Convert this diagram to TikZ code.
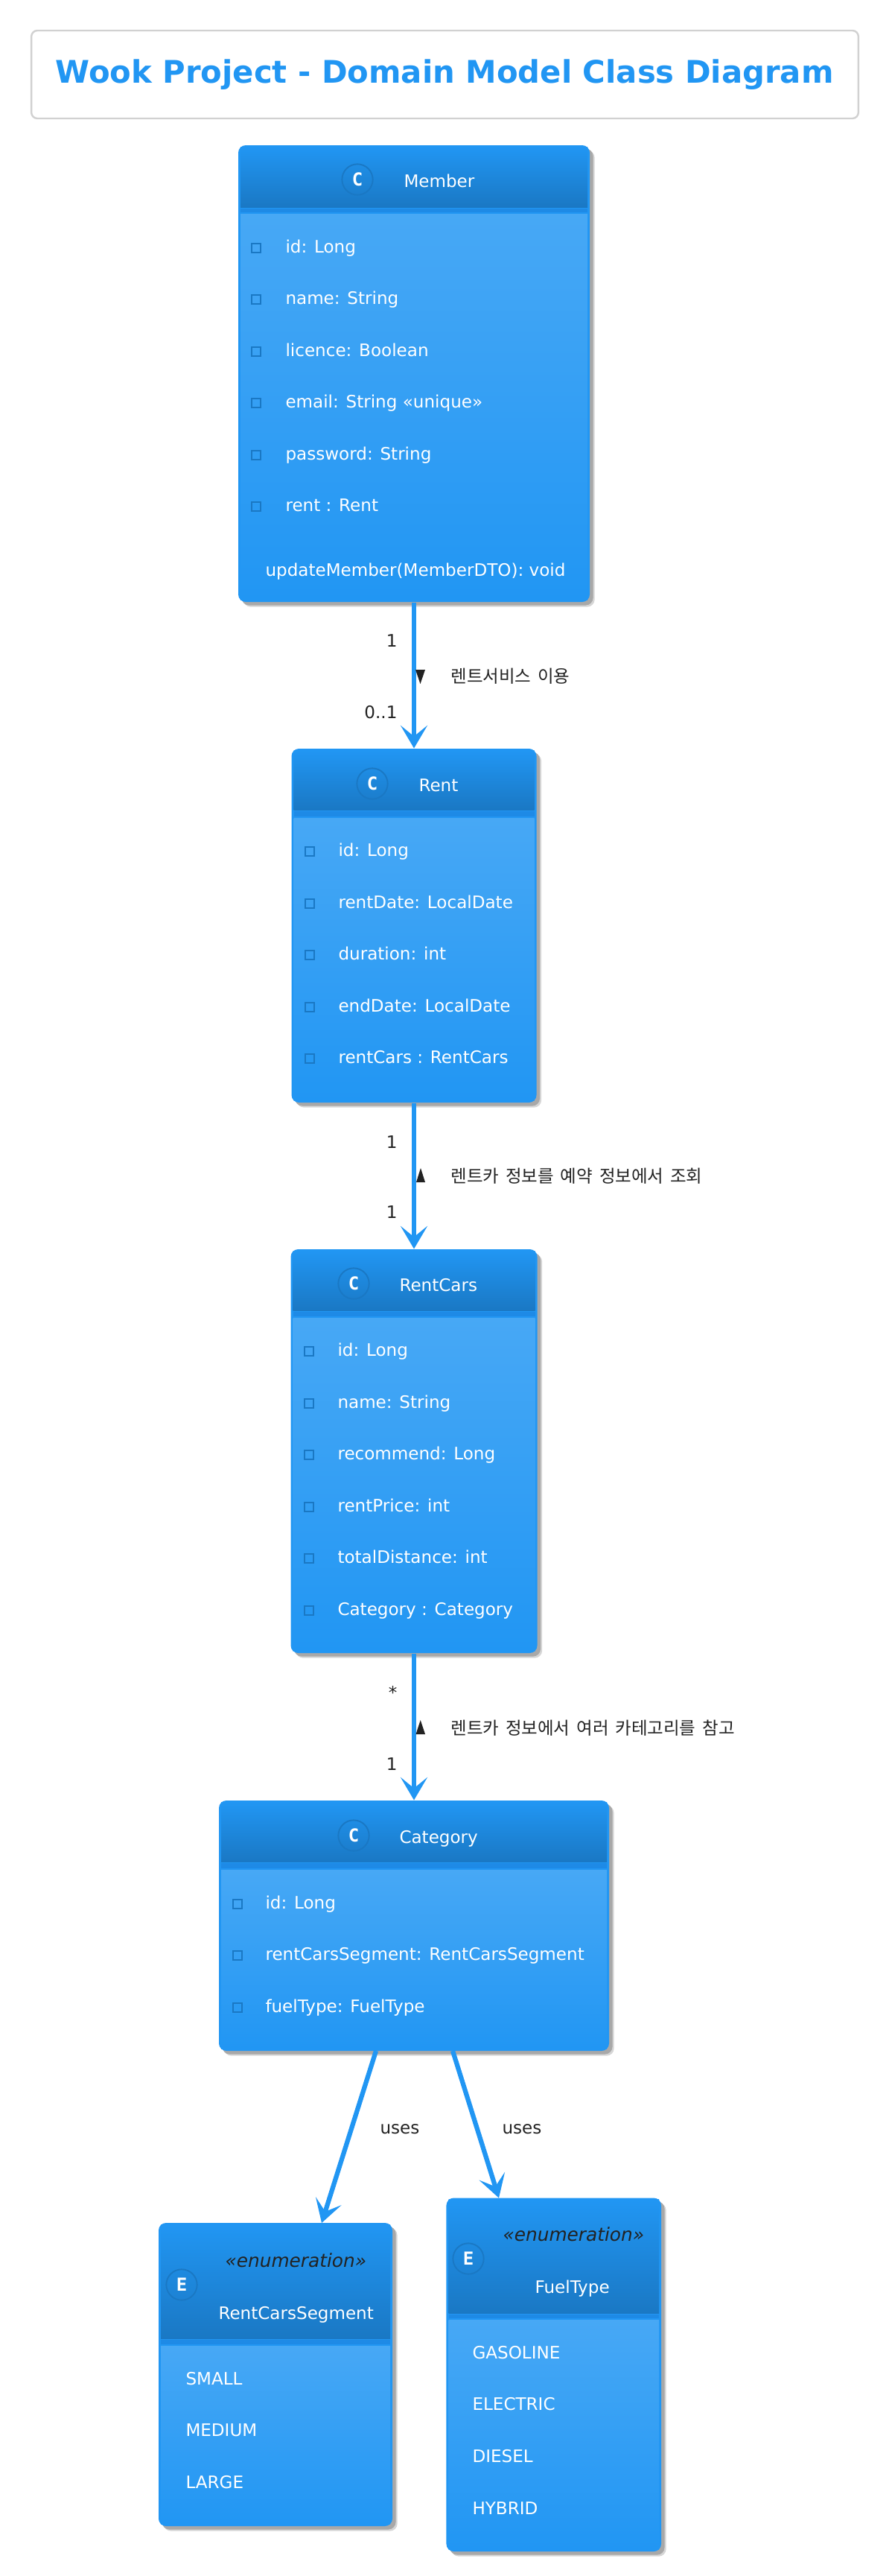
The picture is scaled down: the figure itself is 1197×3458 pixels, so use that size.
\documentclass[tikz,border=0pt]{standalone}
\usepackage{fontspec}
\setmainfont{DejaVu Sans}
\newfontfamily\krfont[WordSpace=1.7]{Noto Sans CJK KR}
\newfontfamily\spotfont{DejaVu Sans Mono}
\usetikzlibrary{arrows.meta,shadows}

\definecolor{umlblue}{HTML}{2196F3}
\definecolor{umldark}{HTML}{1A78C4}
\definecolor{umllight}{HTML}{47A8F5}
\definecolor{umlband}{HTML}{1E8AE6}
\definecolor{labelink}{HTML}{222222}

\tikzset{every picture/.style={line width=0.75pt}}
\tikzset{
  classbox/.style={rectangle,rounded corners=7.5pt,fill=umlblue,inner sep=0pt,
    general shadow={shadow xshift=5pt,shadow yshift=-5pt,fill=black!16},
    general shadow={shadow xshift=3.4pt,shadow yshift=-3.4pt,fill=black!34}},
  headfill/.style={top color=umlblue,bottom color=umldark},
  bodyfill/.style={top color=umllight,bottom color=umlblue},
  bandfill/.style={fill=umlband},
  spotmark/.style={circle,draw=umldark,line width=1.4pt,minimum size=31pt,inner sep=0pt,text=white,font=\spotfont\bfseries\fontsize{18}{20}\selectfont},
  fieldmark/.style={rectangle,draw=umldark,line width=1.5pt,minimum size=9pt,inner sep=0pt},
  classname/.style={anchor=base west,inner sep=0pt,text=white,font=\fontsize{17.3}{20}\selectfont},
  fieldtext/.style={classname},
  stereotext/.style={anchor=base west,inner sep=0pt,text=labelink,font=\itshape\fontsize{18.6}{20}\selectfont},
  roletext/.style={anchor=base east,inner sep=0pt,text=labelink,font=\fontsize{17.3}{20}\selectfont},
  usestext/.style={anchor=base west,inner sep=0pt,text=labelink,font=\fontsize{17.3}{20}\selectfont},
  relationtext/.style={anchor=west,inner sep=0pt,text=labelink,font=\krfont\fontsize{17.6}{20}\selectfont},
  relation/.style={draw=umlblue,line width=4.7pt,-{Stealth[length=23pt,width=27pt,inset=11pt]}},
  readmark/.style={fill=labelink,draw=none},
  titlebox/.style={rectangle,rounded corners=6pt,draw=black!18,line width=1.8pt,fill=white,inner sep=0pt},
  titletext/.style={inner sep=0pt,text=umlblue,font=\bfseries\fontsize{31.3}{36}\selectfont}
}

\begin{document}
\begin{tikzpicture}[x=0.75pt,y=0.75pt,yscale=-1,xscale=1]
\useasboundingbox (0,0) rectangle (1197,3458);

% Title
\node [titlebox,minimum width=833pt,minimum height=88.5pt] (titleFrame) at (597.5,100) {};
\node [titletext] (titleLabel) at (597,100) {Wook Project - Domain Model Class Diagram};

% Class Member
\node [classbox,minimum width=354pt,minimum height=459.75pt] (member) at (556,501.5) {};
\shade [headfill] (323,197) rectangle (789,278);
\fill [bandfill] (323,280) rectangle (789,285);
\shade [bodyfill] (323,287) rectangle (789,805);
\node [spotmark] (memberSpot) at (480,241) {C};
\node [classname] (memberName) at (542,251) {Member};
\node [fieldmark] (memberMark1) at (344,333) {};
\node [fieldmark] (memberMark2) at (344,402) {};
\node [fieldmark] (memberMark3) at (344,472) {};
\node [fieldmark] (memberMark4) at (344,541) {};
\node [fieldmark] (memberMark5) at (344,611) {};
\node [fieldmark] (memberMark6) at (344,680) {};
% Text Node
\node [fieldtext] (memberId) at (383,339) {id: Long};
\node [fieldtext] (memberNameField) at (383,408) {name: String};
\node [fieldtext] (memberLicence) at (383,478) {licence: Boolean};
\node [fieldtext] (memberEmail) at (383,547) {email: String «unique»};
\node [fieldtext] (memberPassword) at (383,617) {password: String};
\node [fieldtext] (memberRent) at (383,686) {rent : Rent};
\node [fieldtext] (memberUpdate) at (356,773) {updateMember(MemberDTO): void};

% Class Rent
\node [classbox,minimum width=246.75pt,minimum height=356.25pt] (rent) at (556,1242.5) {};
\shade [headfill] (394.5,1007) rectangle (717.5,1087);
\fill [bandfill] (394.5,1089) rectangle (717.5,1096);
\shade [bodyfill] (394.5,1098) rectangle (717.5,1477);
\node [spotmark] (rentSpot) at (500,1052) {C};
\node [classname] (rentName) at (562,1062) {Rent};
\node [fieldmark] (rentMark1) at (416,1143) {};
\node [fieldmark] (rentMark2) at (416,1213) {};
\node [fieldmark] (rentMark3) at (416,1282) {};
\node [fieldmark] (rentMark4) at (416,1352) {};
\node [fieldmark] (rentMark5) at (416,1421) {};
% Text Node
\node [fieldtext] (rentId) at (454,1149) {id: Long};
\node [fieldtext] (rentDate) at (454,1219) {rentDate: LocalDate};
\node [fieldtext] (rentDuration) at (454,1288) {duration: int};
\node [fieldtext] (rentEnd) at (454,1358) {endDate: LocalDate};
\node [fieldtext] (rentCarsField) at (454,1427) {rentCars : RentCars};

% Class RentCars
\node [classbox,minimum width=248.25pt,minimum height=406.5pt] (rentCars) at (556,1948) {};
\shade [headfill] (393.5,1679) rectangle (718.5,1759);
\fill [bandfill] (393.5,1761) rectangle (718.5,1767);
\shade [bodyfill] (393.5,1769) rectangle (718.5,2216);
\node [spotmark] (rentCarsSpot) at (475,1723) {C};
\node [classname] (rentCarsName) at (536,1733) {RentCars};
\node [fieldmark] (rentCarsMark1) at (415,1814) {};
\node [fieldmark] (rentCarsMark2) at (415,1884) {};
\node [fieldmark] (rentCarsMark3) at (415,1953) {};
\node [fieldmark] (rentCarsMark4) at (415,2023) {};
\node [fieldmark] (rentCarsMark5) at (415,2092) {};
\node [fieldmark] (rentCarsMark6) at (415,2162) {};
% Text Node
\node [fieldtext] (rentCarsId) at (453,1820) {id: Long};
\node [fieldtext] (rentCarsNameField) at (453,1890) {name: String};
\node [fieldtext] (rentCarsRecommend) at (453,1959) {recommend: Long};
\node [fieldtext] (rentCarsPrice) at (453,2029) {rentPrice: int};
\node [fieldtext] (rentCarsDistance) at (453,2098) {totalDistance: int};
\node [fieldtext] (rentCarsCategory) at (453,2168) {Category : Category};

% Class Category
\node [classbox,minimum width=393pt,minimum height=252pt] (category) at (556,2585) {};
\shade [headfill] (297,2419) rectangle (815,2499);
\fill [bandfill] (297,2501) rectangle (815,2508);
\shade [bodyfill] (297,2510) rectangle (815,2750);
\node [spotmark] (categorySpot) at (475,2464) {C};
\node [classname] (categoryName) at (536,2474) {Category};
\node [fieldmark] (categoryMark1) at (319,2556) {};
\node [fieldmark] (categoryMark2) at (319,2625) {};
\node [fieldmark] (categoryMark3) at (319,2695) {};
% Text Node
\node [fieldtext] (categoryId) at (356,2562) {id: Long};
\node [fieldtext] (categorySegment) at (356,2631) {rentCarsSegment: RentCarsSegment};
\node [fieldtext] (categoryFuel) at (356,2701) {fuelType: FuelType};

% Enum RentCarsSegment
\node [classbox,minimum width=235.5pt,minimum height=305.25pt] (segment) at (370,3187.5) {};
\shade [headfill] (216,2986) rectangle (524,3139);
\fill [bandfill] (216,3141) rectangle (524,3147);
\shade [bodyfill] (216,3149) rectangle (524,3388);
\node [spotmark] (segmentSpot) at (244,3067) {E};
\node [stereotext] (segmentStereo) at (302,3043) {«enumeration»};
\node [classname] (segmentName) at (293,3113) {RentCarsSegment};
% Text Node
\node [fieldtext] (segmentSmall) at (249,3201) {SMALL};
\node [fieldtext] (segmentMedium) at (249,3270.5) {MEDIUM};
\node [fieldtext] (segmentLarge) at (249,3340) {LARGE};

% Enum FuelType
\node [classbox,minimum width=216.4pt,minimum height=355.9pt] (fuelType) at (743.75,3187.75) {};
\shade [headfill] (602.5,2952.5) rectangle (885,3105);
\fill [bandfill] (602.5,3107) rectangle (885,3112);
\shade [bodyfill] (602.5,3114) rectangle (885,3422);
\node [spotmark] (fuelSpot) at (629,3032) {E};
\node [stereotext] (fuelStereo) at (675,3008) {«enumeration»};
\node [classname] (fuelName) at (718,3078) {FuelType};
% Text Node
\node [fieldtext] (fuelGasoline) at (634,3166) {GASOLINE};
\node [fieldtext] (fuelElectric) at (634,3235.5) {ELECTRIC};
\node [fieldtext] (fuelDiesel) at (634,3305) {DIESEL};
\node [fieldtext] (fuelHybrid) at (634,3375) {HYBRID};

%Straight Lines
\coordinate (categoryOutA) at (505,2753);
\coordinate (categoryOutB) at (608,2753);
\coordinate (segmentIn) at (432,2984);
\coordinate (fuelIn) at (670,2950.5);
\draw [relation] (member.south) -- (rent.north);
\draw [relation] (rent.south) -- (rentCars.north);
\draw [relation] (rentCars.south) -- (category.north);
\draw [relation] (categoryOutA) -- (segmentIn);
\draw [relation] (categoryOutB) -- (fuelIn);

% Reading direction marks
\fill [readmark] (558,899) -- (571,899) -- (564.5,918) -- cycle;
\fill [readmark] (559,1587) -- (571,1587) -- (565,1568) -- cycle;
\fill [readmark] (558.5,2328) -- (571,2328) -- (564.75,2309) -- cycle;

% Text Node
\node [roletext] (memberOne) at (534,868) {1};
\node [roletext] (rentZeroOne) at (534,964) {0..1};
\node [relationtext] (memberRelation) at (605,908) {렌트서비스 이용};
\node [roletext] (rentOne) at (534,1541) {1};
\node [roletext] (rentCarsOne) at (534,1635) {1};
\node [relationtext] (rentRelation) at (605,1579) {렌트카 정보를 예약 정보에서 조회};
\node [roletext] (rentCarsMany) at (534,2280) {*};
\node [roletext] (categoryOne) at (534,2376) {1};
\node [relationtext] (categoryRelation) at (605,2320) {렌트카 정보에서 여러 카테고리를 참고};
\node [usestext] (usesSegment) at (510,2864) {uses};
\node [usestext] (usesFuel) at (674,2864) {uses};

\end{tikzpicture}
\end{document}
